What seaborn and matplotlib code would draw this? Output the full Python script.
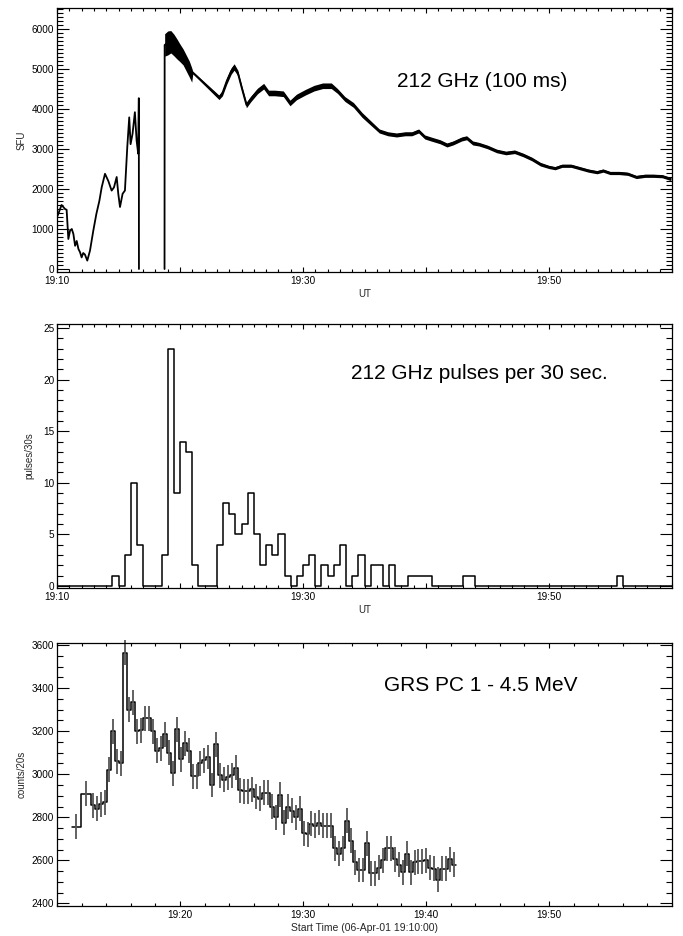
import numpy as np
import pandas as pd
import matplotlib
matplotlib.use("Agg")
import matplotlib.pyplot as plt
from matplotlib.ticker import MultipleLocator, FixedLocator, FuncFormatter
import seaborn as sns

# ---------------- data (minutes after 19:10 UT) ----------------
# Panel 1: 212 GHz flux (SFU); first segment before the data gap
sfu_t_a = [0.0, 0.1, 0.37, 0.65, 0.78, 0.92, 1.06, 1.2, 1.33, 1.47, 1.6, 1.74, 1.87,
           2.0, 2.13, 2.27, 2.46, 2.68, 2.95, 3.2, 3.44, 3.63, 3.9, 4.17, 4.44,
           4.63, 4.85, 4.98, 5.12, 5.33, 5.52, 5.71, 5.87, 5.98, 6.14, 6.33, 6.47,
           6.6, 6.65, 6.66]
sfu_a = [1300, 1375, 1600, 1500, 1480, 750, 960, 1000, 875, 580, 700, 500, 420,
         290, 400, 360, 210, 460, 960, 1380, 1700, 2040, 2380, 2200, 1960,
         2040, 2300, 1880, 1550, 1880, 1960, 3040, 3790, 3120, 3380, 3920, 3210,
         2880, 4270, 0]
# second segment after the gap, with the half-width of the noise band
sfu_t_b = [8.74, 8.75, 9.0, 9.25, 9.5, 9.75, 10.0, 10.25, 10.5, 10.75, 10.95, 11.04,
           13.17, 13.45, 13.8, 14.16, 14.4, 14.7, 15.04, 15.4, 15.75, 16.3, 16.8,
           17.2, 17.7, 18.4, 18.94, 19.47, 20.2, 20.9, 21.6, 22.3, 22.8, 23.4, 24.1,
           24.8, 25.5, 26.2, 26.9, 27.6, 28.3, 28.85, 29.4, 29.9, 30.4, 31.15, 31.7,
           32.2, 32.9, 33.3, 33.8, 34.3, 35.0, 35.75, 36.5, 37.2, 37.9, 38.6, 39.3,
           40.0, 40.5, 41.06, 41.8, 42.5, 43.2, 43.9, 44.4, 44.96, 45.7, 46.4, 47.1,
           47.8, 48.5, 49.2, 49.9]
sfu_b = [0, 5600, 5650, 5680, 5600, 5500, 5400, 5300, 5150, 5000, 4850, 4910,
         4290, 4400, 4700, 4950, 5050, 4900, 4500, 4100, 4250, 4450, 4570,
         4400, 4400, 4380, 4150, 4300, 4420, 4520, 4580, 4580, 4450, 4250, 4100,
         3850, 3650, 3450, 3380, 3350, 3380, 3380, 3450, 3300, 3250, 3180, 3100,
         3150, 3250, 3280, 3150, 3120, 3050, 2950, 2900, 2930, 2850, 2750, 2620,
         2550, 2520, 2580, 2580, 2520, 2460, 2420, 2460, 2400, 2400, 2380, 2300,
         2330, 2330, 2320, 2250]
sfu_b_spread = [0, 280, 300, 280, 270, 250, 220, 200, 200, 200, 180, 30,
                55, 70, 80, 80, 80, 70, 70, 70, 70, 70, 70,
                70, 70, 70, 70, 70, 70, 70, 70, 70, 60, 60, 60,
                60, 55, 50, 50, 50, 50, 50, 50, 50, 50, 50, 50,
                50, 50, 50, 50, 45, 45, 45, 45, 45, 45, 45, 45,
                40, 40, 40, 40, 40, 40, 40, 40, 40, 40, 40, 40,
                40, 40, 40, 40]

# Panel 2: 212 GHz pulses per 30 s (non-zero bins only)
pulse_bin_start = [4.5, 5.5, 6.0, 6.5, 8.5, 9.0, 9.5, 10.0, 10.5, 11.0,
                   13.0, 13.5, 14.0, 14.5, 15.0, 15.5, 16.0, 16.5, 17.0, 17.5, 18.0, 18.5,
                   19.5, 20.0, 20.5, 21.5, 22.0, 22.5, 23.0, 24.0, 24.5, 25.5, 26.0,
                   27.0, 28.5, 29.0, 29.5, 30.0, 33.0, 33.5, 45.5]
pulse_counts = [1, 3, 10, 4, 3, 23, 9, 14, 13, 2,
                4, 8, 7, 5, 6, 9, 5, 2, 4, 3, 5, 1,
                1, 2, 3, 2, 1, 2, 4, 1, 3, 2, 2,
                2, 1, 1, 1, 1, 1, 1, 1]

# Panel 3: GRS PC 1 - 4.5 MeV counts per 20 s
grs_wide_edges = [1.2, 1.93, 2.8]
grs_wide_counts = [2755, 2910]
grs_narrow_end = 32.45
grs_counts = [2855, 2840, 2860, 2870, 3020, 3200, 3060, 3050, 3565, 3300,
              3335, 3200, 3205, 3260, 3260, 3200, 3110, 3120, 3185, 3100,
              3005, 3210, 3070, 3145, 3110, 2990, 2990, 3050, 3065, 3080,
              2950, 3140, 2995, 2975, 2985, 2995, 3030, 2925, 2920, 2920,
              2930, 2895, 2885, 2915, 2915, 2850, 2800, 2905, 2775, 2850,
              2830, 2800, 2840, 2725, 2720, 2770, 2760, 2775, 2760, 2760,
              2760, 2655, 2630, 2655, 2785, 2690, 2590, 2555, 2555, 2680,
              2540, 2540, 2565, 2600, 2655, 2655, 2605, 2580, 2545, 2630,
              2545, 2590, 2595, 2595, 2600, 2565, 2560, 2510, 2560, 2560,
              2605, 2580]
grs_err = 58

# ---------------- style ----------------
sns.set_theme(style="ticks")
plt.rcParams['font.family'] = ['Liberation Sans', 'DejaVu Sans']
plt.rcParams['axes.edgecolor'] = 'black'
plt.rcParams['axes.linewidth'] = 0.9

fig = plt.figure(figsize=(6.83, 9.36), dpi=100)
ax1 = fig.add_axes([0.0835, 0.7094, 0.9004, 0.2821])
ax2 = fig.add_axes([0.0835, 0.3718, 0.9004, 0.2821])
ax3 = fig.add_axes([0.0835, 0.0321, 0.9004, 0.2810])


def style_axes(ax):
    ax.tick_params(which='both', direction='in', top=True, right=True,
                   colors='black', width=0.8, labelsize=7.2)
    ax.tick_params(axis='y', which='major', length=8.6, pad=2)
    ax.tick_params(axis='y', which='minor', length=4.6)
    ax.tick_params(axis='x', which='major', length=3.8, pad=3)
    ax.tick_params(axis='x', which='minor', length=2.2)
    for s in ax.spines.values():
        s.set_color('black')
        s.set_linewidth(0.9)


def ut_fmt(v, pos):
    m = int(round(v))
    return f"19:{10 + m:02d}" if m % 20 == 0 else ""


# ---- panel 1 ----
df_a = pd.DataFrame({'t': sfu_t_a, 'v': sfu_a, 'seg': 0})
df_b = pd.DataFrame({'t': sfu_t_b, 'v': sfu_b, 'seg': 1})
df1 = pd.concat([df_a, df_b], ignore_index=True)
sns.lineplot(data=df1, x='t', y='v', units='seg', estimator=None, sort=False,
             color='black', linewidth=1.3, ax=ax1)
tb = np.array(sfu_t_b[1:])
vb = np.array(sfu_b[1:])
sb = np.array(sfu_b_spread[1:])
ax1.fill_between(tb, vb - sb, vb + sb, color='black', linewidth=0)
ax1.set_xlim(0, 50)
ax1.set_ylim(-75, 6525)
ax1.xaxis.set_major_locator(MultipleLocator(10))
ax1.xaxis.set_minor_locator(MultipleLocator(1))
ax1.xaxis.set_major_formatter(FuncFormatter(ut_fmt))
ax1.yaxis.set_major_locator(MultipleLocator(1000))
ax1.yaxis.set_minor_locator(MultipleLocator(100))
style_axes(ax1)
ax1.set_xlabel('UT', fontsize=7, labelpad=2)
ax1.set_ylabel('SFU', fontsize=7, labelpad=4)
ax1.text(0.553, 0.72, '212 GHz (100 ms)', transform=ax1.transAxes,
         fontsize=15, ha='left', va='center', color='black')

# ---- panel 2 ----
pulse_df = pd.DataFrame({'t': [s + 0.25 for s in pulse_bin_start],
                         'n': pulse_counts})
sns.histplot(data=pulse_df, x='t', weights='n', binwidth=0.5, binrange=(0, 50),
             element='step', fill=False, color='black', linewidth=1.1, ax=ax2)
ax2.set_xlim(0, 50)
ax2.set_ylim(-0.2, 25.4)
ax2.xaxis.set_major_locator(MultipleLocator(10))
ax2.xaxis.set_minor_locator(MultipleLocator(1))
ax2.xaxis.set_major_formatter(FuncFormatter(ut_fmt))
ax2.yaxis.set_major_locator(MultipleLocator(5))
ax2.yaxis.set_minor_locator(MultipleLocator(1))
style_axes(ax2)
ax2.set_xlabel('UT', fontsize=7, labelpad=2)
ax2.set_ylabel('pulses/30s', fontsize=7, labelpad=6)
ax2.text(0.478, 0.814, '212 GHz pulses per 30 sec.', transform=ax2.transAxes,
         fontsize=15, ha='left', va='center', color='black')

# ---- panel 3 ----
narrow_edges = np.linspace(grs_wide_edges[-1], grs_narrow_end, len(grs_counts) + 1)
all_edges = np.concatenate([grs_wide_edges[:-1], narrow_edges])
all_counts = np.array(grs_wide_counts + grs_counts, dtype=float)
step_df = pd.DataFrame({'t': all_edges, 'c': np.append(all_counts, all_counts[-1])})
sns.lineplot(data=step_df, x='t', y='c', estimator=None, sort=False,
             drawstyle='steps-post', color='black', linewidth=1.1, ax=ax3)
mids = 0.5 * (all_edges[:-1] + all_edges[1:])
ax3.errorbar(mids, all_counts, yerr=grs_err, fmt='none', ecolor='#555555',
             elinewidth=1.3, capsize=0, clip_on=False)
ax3.set_xlim(0, 50)
ax3.set_ylim(2388, 3610)
ax3.xaxis.set_major_locator(FixedLocator([10, 20, 30, 40]))
ax3.xaxis.set_minor_locator(MultipleLocator(2))
ax3.xaxis.set_major_formatter(FuncFormatter(lambda v, p: f"19:{10 + int(round(v)):02d}"))
ax3.yaxis.set_major_locator(MultipleLocator(200))
ax3.yaxis.set_minor_locator(MultipleLocator(50))
style_axes(ax3)
ax3.set_xlabel('Start Time (06-Apr-01 19:10:00)', fontsize=7.5, labelpad=2)
ax3.set_ylabel('counts/20s', fontsize=7, labelpad=4)
ax3.text(0.532, 0.837, 'GRS PC 1 - 4.5 MeV', transform=ax3.transAxes,
         fontsize=15, ha='left', va='center', color='black')

fig.savefig('out.png', dpi=100)
